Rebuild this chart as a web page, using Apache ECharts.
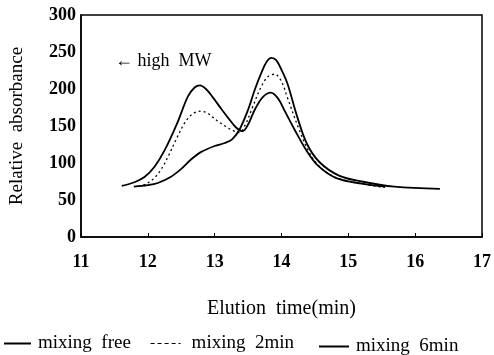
<!DOCTYPE html>
<html>
<head>
  <meta charset="UTF-8">
  <title>Elution profile</title>
  <script src="https://cdn.jsdelivr.net/npm/echarts@6/dist/echarts.min.js"></script>
  <style>
    body { margin: 0; background: #fff; }
    #chart { width: 494px; height: 355px; }
  </style>
</head>
<body>
  <div id="chart"></div>
  <script>
    // mixing free
    const freeX = [11.61, 11.8, 11.95, 12.1, 12.25, 12.44, 12.6, 12.7, 12.78, 12.87, 12.97, 13.1, 13.21, 13.32, 13.42, 13.5, 13.6, 13.72, 13.84, 13.95, 14.05, 14.19, 14.38, 14.55, 14.81, 15.2, 15.55];
    const freeY = [69, 74, 81, 95, 117, 154, 190, 202, 205, 200, 189, 173, 160, 148, 143, 152, 172, 189, 195, 187, 170, 146, 116, 96, 80, 72, 68];
    // mixing 2min
    const twoX = [11.86, 12.0, 12.1, 12.19, 12.3, 12.44, 12.58, 12.7, 12.8, 12.9, 12.97, 13.07, 13.17, 13.27, 13.37, 13.46, 13.57, 13.69, 13.8, 13.9, 14.0, 14.09, 14.26, 14.4, 14.55, 14.8, 15.2, 15.55];
    const twoY = [68, 73, 80, 90, 108, 135, 158, 168, 170, 167, 162, 155, 149, 144, 141, 152, 176, 202, 217, 220, 210, 188, 146, 117, 97, 81, 72, 67];
    // mixing 6min
    const sixX = [11.79, 12.0, 12.15, 12.34, 12.5, 12.65, 12.8, 13.0, 13.15, 13.26, 13.37, 13.5, 13.6, 13.7, 13.78, 13.85, 13.92, 14.0, 14.09, 14.23, 14.38, 14.57, 14.86, 15.2, 15.69, 16.37];
    const sixY = [68, 70, 73, 81, 92, 105, 115, 123, 127, 132, 145, 172, 199, 222, 237, 242, 239, 226, 207, 164, 126, 101, 83, 75, 68, 65];

    const names = ['mixing  free', 'mixing  2min', 'mixing  6min'];

    const pairs = (xs, ys) => xs.map((x, i) => [x, ys[i]]);
    const font = 'Liberation Serif';

    function legendAt(name, left, top, width, pad, lineStyle) {
      return {
        left: left, top: top, itemWidth: width, itemHeight: 10,
        itemStyle: { opacity: 0 },
        textStyle: { fontFamily: font, fontSize: 19, color: '#000', padding: [0, 0, 0, pad] },
        data: [lineStyle ? { name: name, lineStyle: lineStyle } : { name: name }]
      };
    }

    const chart = echarts.init(document.getElementById('chart'));
    chart.setOption({
      animation: false,
      textStyle: { fontFamily: font, color: '#000' },
      grid: { left: 78, right: 6, top: 15, bottom: 118, show: true, borderColor: '#000', borderWidth: 1.5 },
      xAxis: {
        type: 'value', min: 11, max: 17, interval: 1,
        name: 'Elution  time(min)', nameLocation: 'middle', nameGap: 62,
        nameTextStyle: { fontFamily: font, fontSize: 20, color: '#000' },
        axisLine: { lineStyle: { color: '#000', width: 1.5 } },
        axisTick: { inside: true, length: 4, lineStyle: { color: '#000' } },
        axisLabel: { fontFamily: font, fontSize: 18, fontWeight: 'bold', color: '#000', margin: 16 },
        splitLine: { show: false }
      },
      yAxis: {
        type: 'value', min: 0, max: 300, interval: 50,
        name: 'Relative  absorbance', nameLocation: 'middle', nameGap: 54,
        nameTextStyle: { fontFamily: font, fontSize: 19, color: '#000' },
        axisLine: { lineStyle: { color: '#000', width: 1.5 } },
        axisTick: { show: false },
        axisLabel: { fontFamily: font, fontSize: 18, fontWeight: 'bold', color: '#000', margin: 5 },
        splitLine: { show: false }
      },
      legend: [
        legendAt(names[0], -2, 329, 27, 2),
        legendAt(names[1], 145, 329, 30, 6, { type: [4, 3], width: 1.2 }),
        legendAt(names[2], 313, 332, 30, 2)
      ],
      graphic: [{
        type: 'text', left: 115, top: 52,
        style: { text: '\u2190 high  MW', font: '18px "Liberation Serif"', fill: '#000' }
      }],
      series: [
        { name: names[0], type: 'line', smooth: 0.35, symbol: 'none', data: pairs(freeX, freeY),
          lineStyle: { color: '#000', width: 1.8 }, itemStyle: { color: '#000' } },
        { name: names[1], type: 'line', smooth: 0.35, symbol: 'none', data: pairs(twoX, twoY),
          lineStyle: { color: '#000', width: 1.3, type: [2, 3] }, itemStyle: { color: '#000' } },
        { name: names[2], type: 'line', smooth: 0.35, symbol: 'none', data: pairs(sixX, sixY),
          lineStyle: { color: '#000', width: 1.8 }, itemStyle: { color: '#000' } }
      ]
    });
  </script>
</body>
</html>
